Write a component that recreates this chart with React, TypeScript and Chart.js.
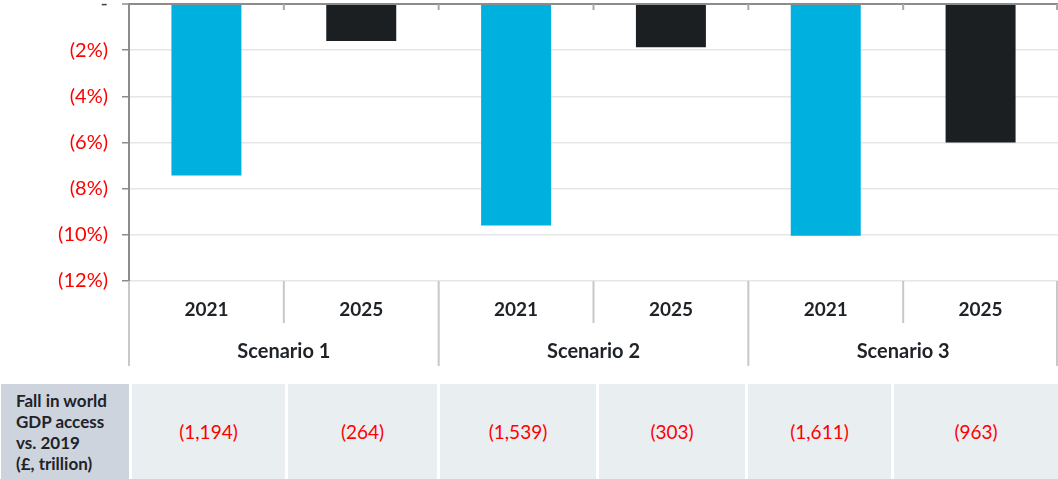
import React, { useEffect, useRef } from "react";
import { Chart, registerables } from "chart.js";

Chart.register(...registerables);

const categories = ["2021", "2025", "2021", "2025", "2021", "2025"];
const scenarios = ["Scenario 1", "Scenario 2", "Scenario 3"];
const values2021 = [-7.43, -9.6, -10.04];
const values2025 = [-1.6, -1.87, -6.0];
const yTicks = [0, -2, -4, -6, -8, -10, -12];
const tableLabel = ["Fall in world", "GDP access", "vs. 2019", "(£, trillion)"];
const tableValues = ["(1,194)", "(264)", "(1,539)", "(303)", "(1,611)", "(963)"];
const tableCellEdges = [
  [132, 285],
  [288, 437],
  [440, 596],
  [599, 745],
  [748, 891],
  [894, 1058],
];

const FONT = 'Lato, "Open Sans", "Noto Sans", sans-serif';
const CYAN = "#00b0df";
const DARK = "#1b1f22";

const groupPlugin = {
  id: "groupPlugin",
  afterDraw(chart: any) {
    const ctx = chart.ctx;
    const xs = chart.scales.x;
    const area = chart.chartArea;
    const n = categories.length;
    const catW = (xs.right - xs.left) / n;
    ctx.save();
    for (let i = 0; i <= n; i++) {
      let x = xs.left + i * catW;
      if (i === n) x = xs.right - 1;
      const long = i % 2 === 0;
      ctx.strokeStyle = "#c8c8c8";
      ctx.lineWidth = 2;
      ctx.beginPath();
      ctx.moveTo(x, area.bottom);
      ctx.lineTo(x, long ? 366 : 323);
      ctx.stroke();
      if (i > 0) {
        ctx.strokeStyle = "#a8a8a8";
        ctx.beginPath();
        ctx.moveTo(x, area.top);
        ctx.lineTo(x, area.top + 6);
        ctx.stroke();
      }
    }
    ctx.fillStyle = "#1f2327";
    ctx.font = `bold 20px ${FONT}`;
    ctx.textAlign = "center";
    ctx.textBaseline = "middle";
    scenarios.forEach((s, j) => {
      const cx = xs.left + (2 * j + 1) * catW;
      ctx.fillText(s, cx, 352);
    });
    ctx.restore();
  },
};

function ChartCanvas() {
  const ref = useRef<HTMLCanvasElement | null>(null);
  useEffect(() => {
    document.body.style.margin = "0";
    const data2021: (number | null)[] = [];
    const data2025: (number | null)[] = [];
    values2021.forEach((v, i) => {
      data2021.push(v, null);
      data2025.push(null, values2025[i]);
    });
    const chart = new Chart(ref.current as HTMLCanvasElement, {
      type: "bar",
      data: {
        labels: categories,
        datasets: [
          {
            label: "2021",
            data: data2021,
            backgroundColor: CYAN,
            barPercentage: 0.452,
            categoryPercentage: 1,
          },
          {
            label: "2025",
            data: data2025,
            backgroundColor: DARK,
            barPercentage: 0.452,
            categoryPercentage: 1,
          },
        ],
      },
      options: {
        animation: false,
        responsive: false,
        devicePixelRatio: 1,
        skipNull: true,
        layout: { padding: { top: 4, left: 0, right: 0, bottom: 0 } },
        plugins: {
          legend: { display: false },
          tooltip: { enabled: false },
        },
        scales: {
          x: {
            type: "category",
            grid: { display: false, drawTicks: false },
            border: { display: false },
            ticks: {
              color: "#1f2327",
              font: { family: FONT, size: 19, weight: "bold" },
              padding: 17,
              maxRotation: 0,
              autoSkip: false,
            },
            afterFit(scale: any) {
              scale.height = 101;
              scale.paddingLeft = 0;
              scale.paddingRight = 0;
            },
          },
          y: {
            min: -12,
            max: 0,
            afterBuildTicks(scale: any) {
              scale.ticks = yTicks.map((v) => ({ value: v }));
            },
            ticks: {
              color: (c: any) => (c.tick && c.tick.value === 0 ? "#404040" : "#ff0000"),
              font: { family: FONT, size: 20 },
              padding: 14,
              callback: (v: any) => (Number(v) === 0 ? "-" : `(${-Number(v)}%)`),
            },
            grid: {
              color: (c: any) => (c.tick && c.tick.value === 0 ? "#8c8c8c" : "#e6e6e6"),
              lineWidth: (c: any) => (c.tick && c.tick.value === 0 ? 2 : 1.5),
              tickColor: "#8c8c8c",
              tickLength: 7,
              tickWidth: 1.5,
            },
            border: { display: true, color: "#8c8c8c", width: 2 },
            afterFit(scale: any) {
              scale.width = 129;
              scale.paddingTop = 0;
              scale.paddingBottom = 0;
            },
          },
        },
      } as any,
      plugins: [groupPlugin],
    });
    return () => chart.destroy();
  }, []);
  return (
    <canvas
      ref={ref}
      width={1058}
      height={382}
      style={{ position: "absolute", left: 0, top: 0, width: 1058, height: 382 }}
    />
  );
}

export default function App() {
  return (
    <div style={{ position: "relative", width: 1058, height: 479, overflow: "hidden", background: "#fff" }}>
      <ChartCanvas />
      <div
        style={{
          position: "absolute",
          left: 1,
          top: 384,
          width: 128,
          height: 95,
          background: "#cdd4dd",
          display: "flex",
          flexDirection: "column",
          justifyContent: "center",
          paddingLeft: 15,
          boxSizing: "border-box",
          fontFamily: FONT,
          fontWeight: 700,
          fontSize: 17,
          lineHeight: "21px",
          color: "#1f2327",
        }}
      >
        {tableLabel.map((t, i) => (
          <div key={i} style={{ whiteSpace: "nowrap" }}>
            {t}
          </div>
        ))}
      </div>
      {tableValues.map((v, i) => (
        <div
          key={i}
          style={{
            position: "absolute",
            left: tableCellEdges[i][0],
            top: 384,
            width: tableCellEdges[i][1] - tableCellEdges[i][0],
            height: 95,
            background: "#e9eef1",
            display: "flex",
            alignItems: "center",
            justifyContent: "center",
            fontFamily: FONT,
            fontSize: 19,
            color: "#ff0000",
          }}
        >
          {v}
        </div>
      ))}
    </div>
  );
}
